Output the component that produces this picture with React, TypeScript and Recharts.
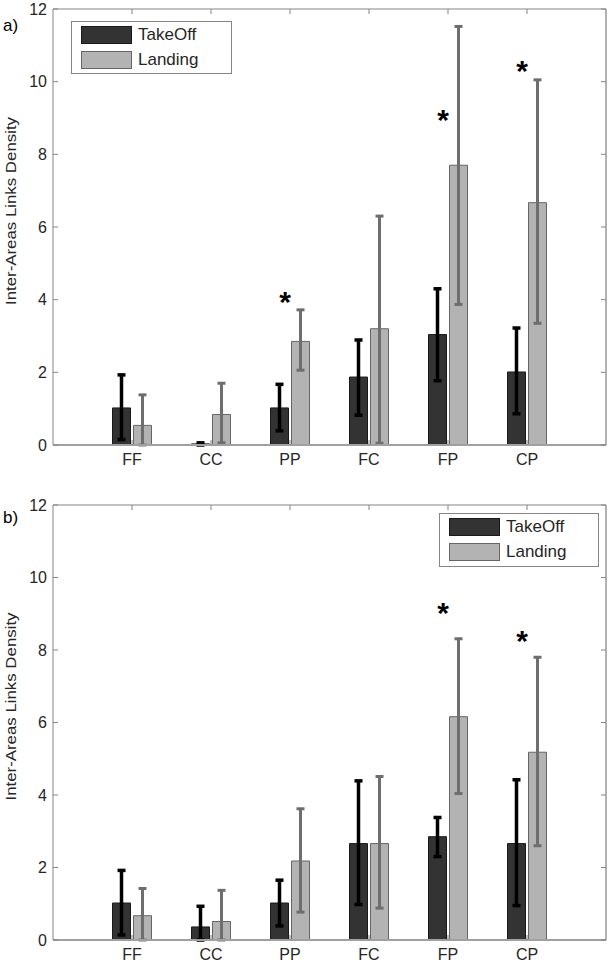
import { ComposedChart, Bar, XAxis, YAxis, ErrorBar, ReferenceDot, Legend } from 'recharts';

const FONT = '"Liberation Sans", Arial, Helvetica, sans-serif';
const AXIS = '#858585';
const TEXT = '#262626';
const TAKEOFF = '#333333';
const LANDING = '#b3b3b3';

const categories = ['FF', 'CC', 'PP', 'FC', 'FP', 'CP'];
const yTicks = [0, 2, 4, 6, 8, 10, 12];
const seriesNames = ['TakeOff', 'Landing'];

// panel a)
const takeOffA = [1.02, 0.03, 1.02, 1.87, 3.04, 2.01];
const takeOffLoA = [0.15, 0.0, 0.39, 0.82, 1.77, 0.86];
const takeOffHiA = [1.93, 0.06, 1.67, 2.89, 4.3, 3.22];
const landingA = [0.54, 0.84, 2.85, 3.2, 7.7, 6.67];
const landingLoA = [0.0, 0.06, 2.06, 0.05, 3.87, 3.35];
const landingHiA = [1.38, 1.7, 3.72, 6.3, 11.52, 10.05];
const starsA = [
  { cat: 'PP', y: 4.13 },
  { cat: 'FP', y: 9.15 },
  { cat: 'CP', y: 10.5 },
];

// panel b)
const takeOffB = [1.02, 0.36, 1.02, 2.66, 2.85, 2.66];
const takeOffLoB = [0.14, 0.0, 0.39, 0.98, 2.3, 0.95];
const takeOffHiB = [1.92, 0.93, 1.65, 4.39, 3.38, 4.42];
const landingB = [0.67, 0.51, 2.18, 2.66, 6.16, 5.18];
const landingLoB = [0.0, 0.0, 0.77, 0.88, 4.04, 2.6];
const landingHiB = [1.42, 1.37, 3.62, 4.51, 8.31, 7.8];
const starsB = [
  { cat: 'FP', y: 9.21 },
  { cat: 'CP', y: 8.44 },
];

function buildRows(to: number[], toLo: number[], toHi: number[], la: number[], laLo: number[], laHi: number[]) {
  return categories.map((cat, i) => ({
    cat,
    takeOff: to[i],
    landing: la[i],
    takeOffErr: [to[i] - toLo[i], toHi[i] - to[i]],
    landingErr: [la[i] - laLo[i], laHi[i] - la[i]],
  }));
}

const rowsA = buildRows(takeOffA, takeOffLoA, takeOffHiA, landingA, landingLoA, landingHiA);
const rowsB = buildRows(takeOffB, takeOffLoB, takeOffHiB, landingB, landingLoB, landingHiB);

const noTick = () => <g />;

function StarShape(props: any) {
  return (
    <text x={props.cx - 5} y={props.cy + 17} textAnchor="middle" fontSize={30} fontWeight="bold" fontFamily={FONT} fill="#000">
      *
    </text>
  );
}

function LegendBox(props: any) {
  // keep the series order (TakeOff first), not alphabetical
  const items = [...(props.payload || [])].sort(
    (a: any, b: any) => seriesNames.indexOf(a.value) - seriesNames.indexOf(b.value),
  );
  return (
    <div
      style={{
        width: '100%',
        height: '100%',
        boxSizing: 'border-box',
        border: `1px solid ${AXIS}`,
        background: '#fff',
        position: 'relative',
        fontFamily: FONT,
      }}
    >
      {items.map((it: any, i: number) => (
        <div key={it.value} style={{ position: 'absolute', left: 9, top: 4 + i * 25, display: 'flex', alignItems: 'center' }}>
          <div
            style={{
              width: 51,
              height: 18,
              boxSizing: 'border-box',
              background: it.color,
              border: `1px solid ${i === 0 ? '#1a1a1a' : '#666'}`,
            }}
          />
          <span style={{ marginLeft: 6, fontSize: 17, color: TEXT, lineHeight: '18px' }}>{it.value}</span>
        </div>
      ))}
    </div>
  );
}

interface PanelProps {
  rows: ReturnType<typeof buildRows>;
  stars: { cat: string; y: number }[];
  tag: string;
  tagY: number;
  height: number;
  marginTop: number;
  xAxisHeight: number;
  legend: { left: number; top: number; width: number; height: number };
}

function Panel({ rows, stars, tag, tagY, height, marginTop, xAxisHeight, legend }: PanelProps) {
  const yLabel = (p: any) => {
    const vb = p.viewBox;
    const cy = vb.y + vb.height / 2 - 16;
    return (
      <g fontFamily={FONT} fill={TEXT}>
        <text transform={`translate(15.5,${cy}) rotate(-90)`} textAnchor="middle" fontSize={15} textLength={188} lengthAdjust="spacingAndGlyphs" fill={TEXT}>
          Inter-Areas Links Density
        </text>
        <text x={3} y={tagY} fontSize={17} fill="#000">
          {tag}
        </text>
      </g>
    );
  };
  const tickStyle = { fill: TEXT, fontSize: 16, fontFamily: FONT };
  return (
    <ComposedChart
      width={609}
      height={height}
      data={rows}
      margin={{ top: marginTop, right: 2, bottom: 0, left: 0 }}
      barSize={18}
      barGap={3}
    >
      <XAxis
        xAxisId="top"
        orientation="top"
        dataKey="cat"
        height={1}
        padding={{ left: 39.5, right: 39.5 }}
        tick={noTick}
        tickSize={-5}
        interval={0}
        axisLine={{ stroke: AXIS }}
        tickLine={{ stroke: AXIS }}
      />
      <XAxis
        dataKey="cat"
        height={xAxisHeight}
        padding={{ left: 39.5, right: 39.5 }}
        tick={tickStyle}
        tickSize={-5}
        tickMargin={14}
        interval={0}
        axisLine={{ stroke: '#a0a0a0', strokeWidth: 2 }}
        tickLine={{ stroke: AXIS }}
      />
      <YAxis
        type="number"
        domain={[0, 12]}
        ticks={yTicks}
        allowDataOverflow
        width={53}
        interval={0}
        tick={tickStyle}
        tickSize={-5}
        tickMargin={11}
        axisLine={{ stroke: AXIS }}
        tickLine={{ stroke: AXIS }}
        label={yLabel}
      />
      <YAxis
        yAxisId="right"
        orientation="right"
        type="number"
        domain={[0, 12]}
        ticks={yTicks}
        allowDataOverflow
        width={1}
        interval={0}
        tick={noTick}
        tickSize={-5}
        axisLine={{ stroke: '#666' }}
        tickLine={{ stroke: AXIS }}
      />
      <Legend
        layout="horizontal"
        verticalAlign="middle"
        align="center"
        wrapperStyle={{ left: legend.left, top: legend.top, width: legend.width, height: legend.height }}
        content={LegendBox}
      />
      <Bar dataKey="takeOff" name={seriesNames[0]} fill={TAKEOFF} stroke="#1a1a1a" strokeWidth={1} isAnimationActive={false}>
        <ErrorBar dataKey="takeOffErr" direction="y" width={4} stroke="#000" strokeWidth={3.5} isAnimationActive={false} />
      </Bar>
      <Bar dataKey="landing" name={seriesNames[1]} fill={LANDING} stroke="#666" strokeWidth={1} isAnimationActive={false}>
        <ErrorBar dataKey="landingErr" direction="y" width={4} stroke="#6e6e6e" strokeWidth={3} isAnimationActive={false} />
      </Bar>
      {stars.map((s) => (
        <ReferenceDot key={s.cat} x={s.cat} y={s.y} shape={StarShape} ifOverflow="visible" />
      ))}
    </ComposedChart>
  );
}

export default function App() {
  return (
    <div style={{ position: 'absolute', left: 0, top: 0, width: 609, height: 964, background: '#fff', fontFamily: FONT }}>
      <Panel
        rows={rowsA}
        stars={starsA}
        tag="a)"
        tagY={31}
        height={480}
        marginTop={8}
        xAxisHeight={35}
        legend={{ left: 71, top: 21, width: 161, height: 53 }}
      />
      <Panel
        rows={rowsB}
        stars={starsB}
        tag="b)"
        tagY={43}
        height={484}
        marginTop={24}
        xAxisHeight={24}
        legend={{ left: 439, top: 33, width: 160, height: 54 }}
      />
    </div>
  );
}
